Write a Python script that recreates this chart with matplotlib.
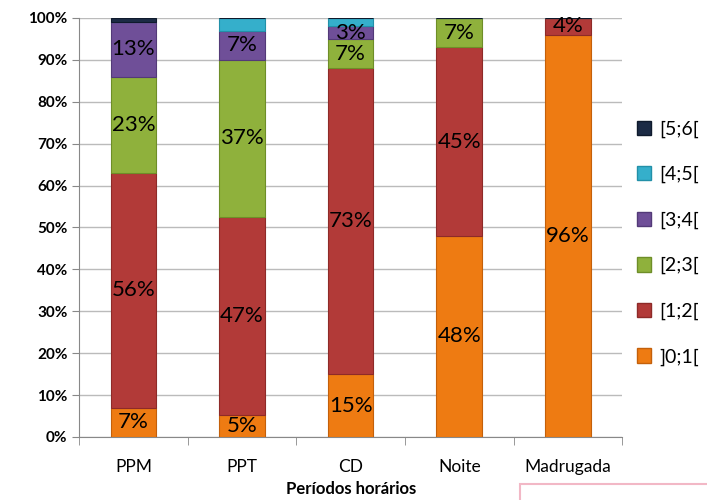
import matplotlib.pyplot as plt
from matplotlib.patches import Patch, Rectangle
import numpy as np

plt.rcParams['font.family'] = ['Lato', 'DejaVu Sans']

# Data: share of each class per time period (%)
periods = ['PPM', 'PPT', 'CD', 'Noite', 'Madrugada']
classes = [']0;1[', '[1;2[', '[2;3[', '[3;4[', '[4;5[', '[5;6[']
c01 = [7, 5.2, 15, 48, 96]
c12 = [56, 47.3, 73, 45, 4]
c23 = [23, 37.5, 7, 7, 0]
c34 = [13, 7, 3, 0, 0]
c45 = [0, 3, 2, 0, 0]
c56 = [1, 0, 0, 0, 0]
labels01 = ['7%', '5%', '15%', '48%', '96%']
labels12 = ['56%', '47%', '73%', '45%', '4%']
labels23 = ['23%', '37%', '7%', '7%', '']
labels34 = ['13%', '7%', '3%', '', '']

series = [c01, c12, c23, c34, c45, c56]
series_labels = [labels01, labels12, labels23, labels34, None, None]
colors = ['#EE7B12', '#B23A38', '#8FB13C', '#6F4F98', '#35AFCB', '#1C2B45']
edges = ['#C4600A', '#8E2A28', '#6E8E28', '#533A78', '#2290A8', '#0F1A2C']

fig = plt.figure(figsize=(7.07, 5), dpi=100)
ax = fig.add_axes([0.112, 0.126, 0.768, 0.838])

x = np.arange(len(periods))
bottom = np.zeros(len(periods))
for vals, labs, col, ec in zip(series, series_labels, colors, edges):
    vals = np.array(vals, dtype=float)
    ax.bar(x, vals, 0.42, bottom=bottom, color=col, edgecolor=ec, linewidth=0.8, zorder=3)
    if labs is not None:
        for xi, b, v, t in zip(x, bottom, vals, labs):
            if t:
                ax.text(xi, b + v / 2, t, ha='center', va='center', fontsize=16, color='black', zorder=4)
    bottom += vals

ax.set_ylim(0, 100)
ax.set_xlim(-0.5, len(periods) - 0.5)
ax.set_yticks(np.arange(0, 101, 10))
ax.set_yticklabels([f'{v}%' for v in range(0, 101, 10)], fontsize=11, fontweight='bold')
ax.set_xticks(x)
ax.set_xticklabels(periods, fontsize=12.5)
ax.set_xticks(np.arange(-0.5, len(periods)), minor=True)
ax.tick_params(axis='x', which='major', length=0, pad=16)
ax.tick_params(axis='x', which='minor', length=6, color='#888888')
ax.tick_params(axis='y', length=5, color='#888888')
ax.grid(axis='y', color='#BBBBBB', linewidth=1, zorder=0)
for s in ['top', 'right']:
    ax.spines[s].set_visible(False)
ax.spines['left'].set_color('#888888')
ax.spines['bottom'].set_color('#888888')
ax.set_xlabel('Períodos horários', fontsize=12, fontweight='bold', labelpad=4)

handles = [Patch(facecolor=c, edgecolor=e) for c, e in zip(colors, edges)]
ax.legend(handles[::-1], classes[::-1], loc='center left', bbox_to_anchor=(1.005, 0.463),
          frameon=False, fontsize=14, labelspacing=1.45, handlelength=0.75,
          handleheight=0.75, handletextpad=0.4, borderaxespad=0.2)

fig.patches.append(Rectangle((0.735, -0.05), 0.3, 0.082, transform=fig.transFigure,
                             fill=False, edgecolor='#F2B8C6', linewidth=1.5))

fig.savefig('out.png', dpi=100)
